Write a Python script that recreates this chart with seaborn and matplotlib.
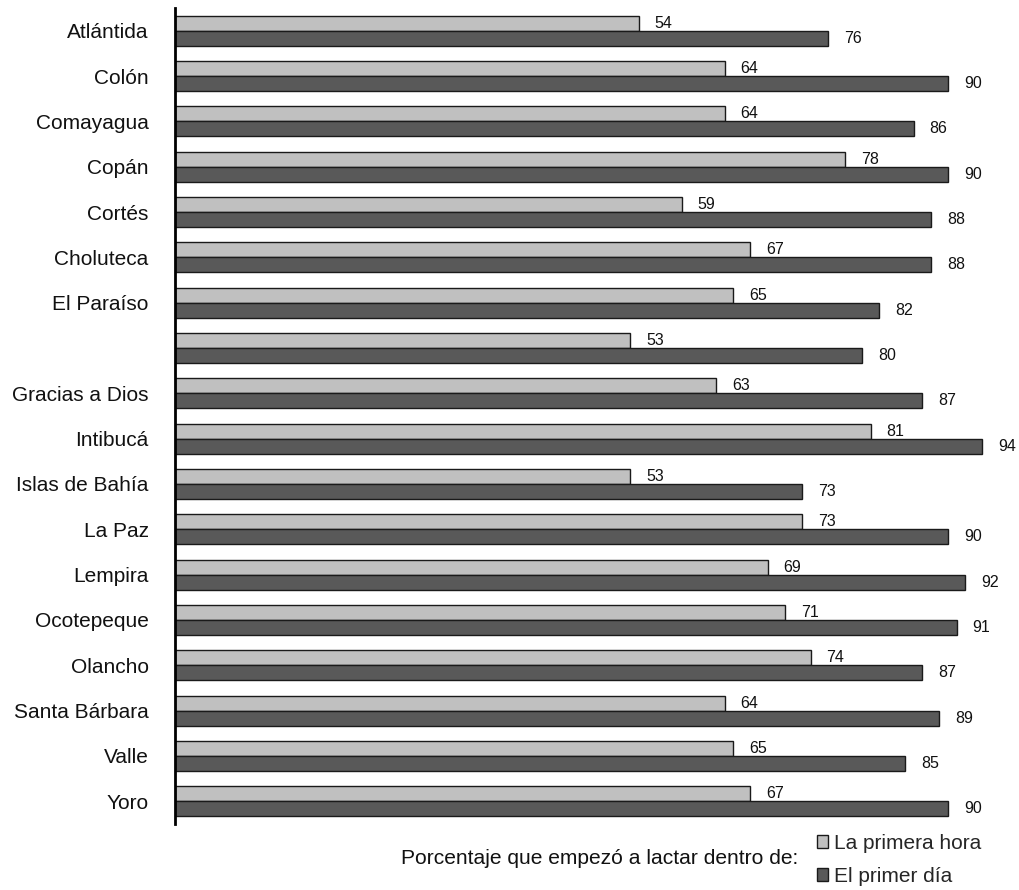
import matplotlib
matplotlib.use("Agg")
import matplotlib.pyplot as plt
from matplotlib.patches import Patch
import seaborn as sns
import pandas as pd

departamentos = ["Atlántida", "Colón", "Comayagua", "Copán", "Cortés", "Choluteca",
                 "El Paraíso", "", "Gracias a Dios", "Intibucá", "Islas de Bahía",
                 "La Paz", "Lempira", "Ocotepeque", "Olancho", "Santa Bárbara",
                 "Valle", "Yoro"]
primera_hora = [54, 64, 64, 78, 59, 67, 65, 53, 63, 81, 53, 73, 69, 71, 74, 64, 65, 67]
primer_dia = [76, 90, 86, 90, 88, 88, 82, 80, 87, 94, 73, 90, 92, 91, 87, 89, 85, 90]
series = ["La primera hora", "El primer día"]
colores = ["#c0c0c0", "#595959"]
caption = "Porcentaje que empezó a lactar dentro de:"

df = pd.DataFrame({
    "dep": departamentos * 2,
    "serie": [series[0]] * len(departamentos) + [series[1]] * len(departamentos),
    "valor": primera_hora + primer_dia,
})

sns.set_theme(style="white")
plt.rcParams["font.family"] = ["Liberation Sans", "DejaVu Sans"]

fig = plt.figure(figsize=(10.2, 8.9), dpi=100)
W, H = 1020, 890
ax = fig.add_axes([175 / W, 1 - 824 / H, 840 / W, (824 - 8) / H])

sns.barplot(data=df, y="dep", x="valor", hue="serie", order=departamentos,
            hue_order=series, palette=colores, orient="h", width=0.66,
            edgecolor="#1a1a1a", linewidth=1.0, saturation=1, legend=False, ax=ax)

for cont in ax.containers:
    ax.bar_label(cont, padding=11.5, fontsize=11.5, color="#111111")

ax.set_xlim(0, 97.8)
ax.set_ylim(17.5, -0.5)
ax.set_xlabel("")
ax.set_ylabel("")
ax.set_xticks([])
ax.tick_params(axis="y", length=0, pad=19, labelsize=15, labelcolor="#111111")
for s in ["top", "right", "bottom"]:
    ax.spines[s].set_visible(False)
ax.spines["left"].set_color("black")
ax.spines["left"].set_linewidth(2)

fig.text(401 / W, 1 - 858 / H, caption, ha="left", va="center", fontsize=15.1, color="#111111")

handles = [Patch(facecolor=c, edgecolor="#1a1a1a", linewidth=1.0) for c in colores]
fig.legend(handles, series, loc="center left", bbox_to_anchor=(817 / W, 1 - 860 / H),
           frameon=False, fontsize=15, handlelength=0.55, handleheight=0.55,
           handletextpad=0.25, labelspacing=0.68, borderaxespad=0, borderpad=0)

fig.savefig("out.png", dpi=100)
